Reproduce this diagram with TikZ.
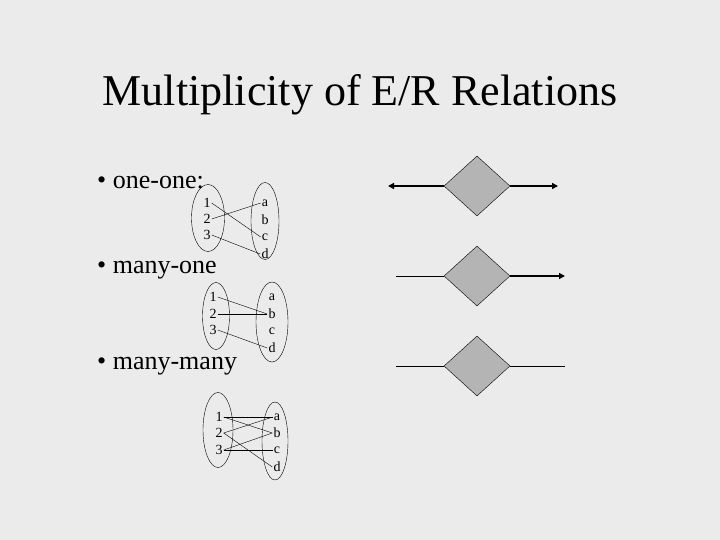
\documentclass[tikz,border=0pt]{standalone}
\usepackage{fontspec}
\setmainfont{Liberation Serif}
\usetikzlibrary{shapes.geometric,arrows.meta}
\definecolor{slidebg}{RGB}{235,235,235}
\definecolor{relfill}{RGB}{180,180,180}
\tikzset{
    setell/.style={ellipse,draw,thin,inner sep=0pt},
    elem/.style={font=\fontsize{14}{14}\selectfont,inner sep=1pt},
    rel/.style={diamond,draw,fill=relfill,minimum width=66pt,minimum height=60pt,inner sep=0pt},
    bullet/.style={anchor=west,font=\fontsize{26}{26}\selectfont,inner sep=0pt}
}
\begin{document}
\begin{tikzpicture}[x=1pt,y=-1pt]
    \fill[slidebg] (0,0) rectangle (720,540);
    \useasboundingbox (0,0) rectangle (720,540);
    \node (title) at (360,95) {\fontsize{44}{44}\selectfont Multiplicity of E/R Relations};
    \node[bullet] (b1) at (97,183) {\textbullet\ one-one:};
    \node[bullet] (b2) at (97,270) {\textbullet\ many-one};
    \node[bullet] (b3) at (97,366) {\textbullet\ many-many};
    % one-one sets
    \begin{scope}
        \node[setell,minimum width=33pt,minimum height=67pt] (L1) at (208,218) {};
        \node[setell,minimum width=28pt,minimum height=77pt] (R1) at (265,221) {};
        \node[elem] (L1a) at (207,203) {1};
        \node[elem] (L1b) at (207,219) {2};
        \node[elem] (L1c) at (207,235) {3};
        \node[elem] (R1a) at (265,203) {a};
        \node[elem] (R1b) at (265,220) {b};
        \node[elem] (R1c) at (265,237) {c};
        \node[elem] (R1d) at (265,254) {d};
    \end{scope}
    \draw (L1a.east) -- (R1c.west);
    \draw (L1b.east) -- (R1a.west);
    \draw (L1c.east) -- (R1d.west);
    % many-one sets
    \node[setell,minimum width=27pt,minimum height=67pt] (L2) at (216,316) {};
    \node[setell,minimum width=32pt,minimum height=80pt] (R2) at (272,322) {};
    \node[elem] (L2a) at (213,297) {1};
    \node[elem] (L2b) at (213,314) {2};
    \node[elem] (L2c) at (213,330) {3};
    \node[elem] (R2a) at (272,297) {a};
    \node[elem] (R2b) at (272,314) {b};
    \node[elem] (R2c) at (272,331) {c};
    \node[elem] (R2d) at (272,348) {d};
    \draw (L2a.east) -- (R2b.west);
    \draw (L2b.east) -- (R2b.west);
    \draw (L2c.east) -- (R2d.west);
    % many-many sets
    \node[setell,minimum width=30pt,minimum height=75pt] (L3) at (218,430) {};
    \node[setell,minimum width=26pt,minimum height=78pt] (R3) at (275,441) {};
    \node[elem] (L3a) at (219,417) {1};
    \node[elem] (L3b) at (219,433) {2};
    \node[elem] (L3c) at (219,450) {3};
    \node[elem] (R3a) at (277,417) {a};
    \node[elem] (R3b) at (277,433) {b};
    \node[elem] (R3c) at (277,450) {c};
    \node[elem] (R3d) at (277,467) {d};
    \draw (L3a.east) -- (R3a.west);
    \draw (L3a.east) -- (R3b.west);
    \draw (L3b.east) -- (R3a.west);
    \draw (L3b.east) -- (R3d.west);
    \draw (L3c.east) -- (R3b.west);
    \draw (L3c.east) -- (R3c.west);
    % relationship diamonds
    \node[rel] (D1) at (477,186) {};
    \node[rel] (D2) at (477,276) {};
    \node[rel] (D3) at (477,366) {};
    \coordinate (D1l) at (388,186);
    \coordinate (D1r) at (558,186);
    \coordinate (D2l) at (396,276);
    \coordinate (D2r) at (565,276);
    \coordinate (D3l) at (396,366);
    \coordinate (D3r) at (565,366);
    \draw[line width=1.4pt,-{Triangle[length=6pt,width=6pt]}] (D1.west) -- (D1l);
    \draw[line width=1.4pt,-{Triangle[length=6pt,width=6pt]}] (D1.east) -- (D1r);
    \draw (D2l) -- (D2.west);
    \draw[line width=1.4pt,-{Triangle[length=6pt,width=6pt]}] (D2.east) -- (D2r);
    \draw (D3l) -- (D3.west);
    \draw (D3.east) -- (D3r);
\end{tikzpicture}
\end{document}
